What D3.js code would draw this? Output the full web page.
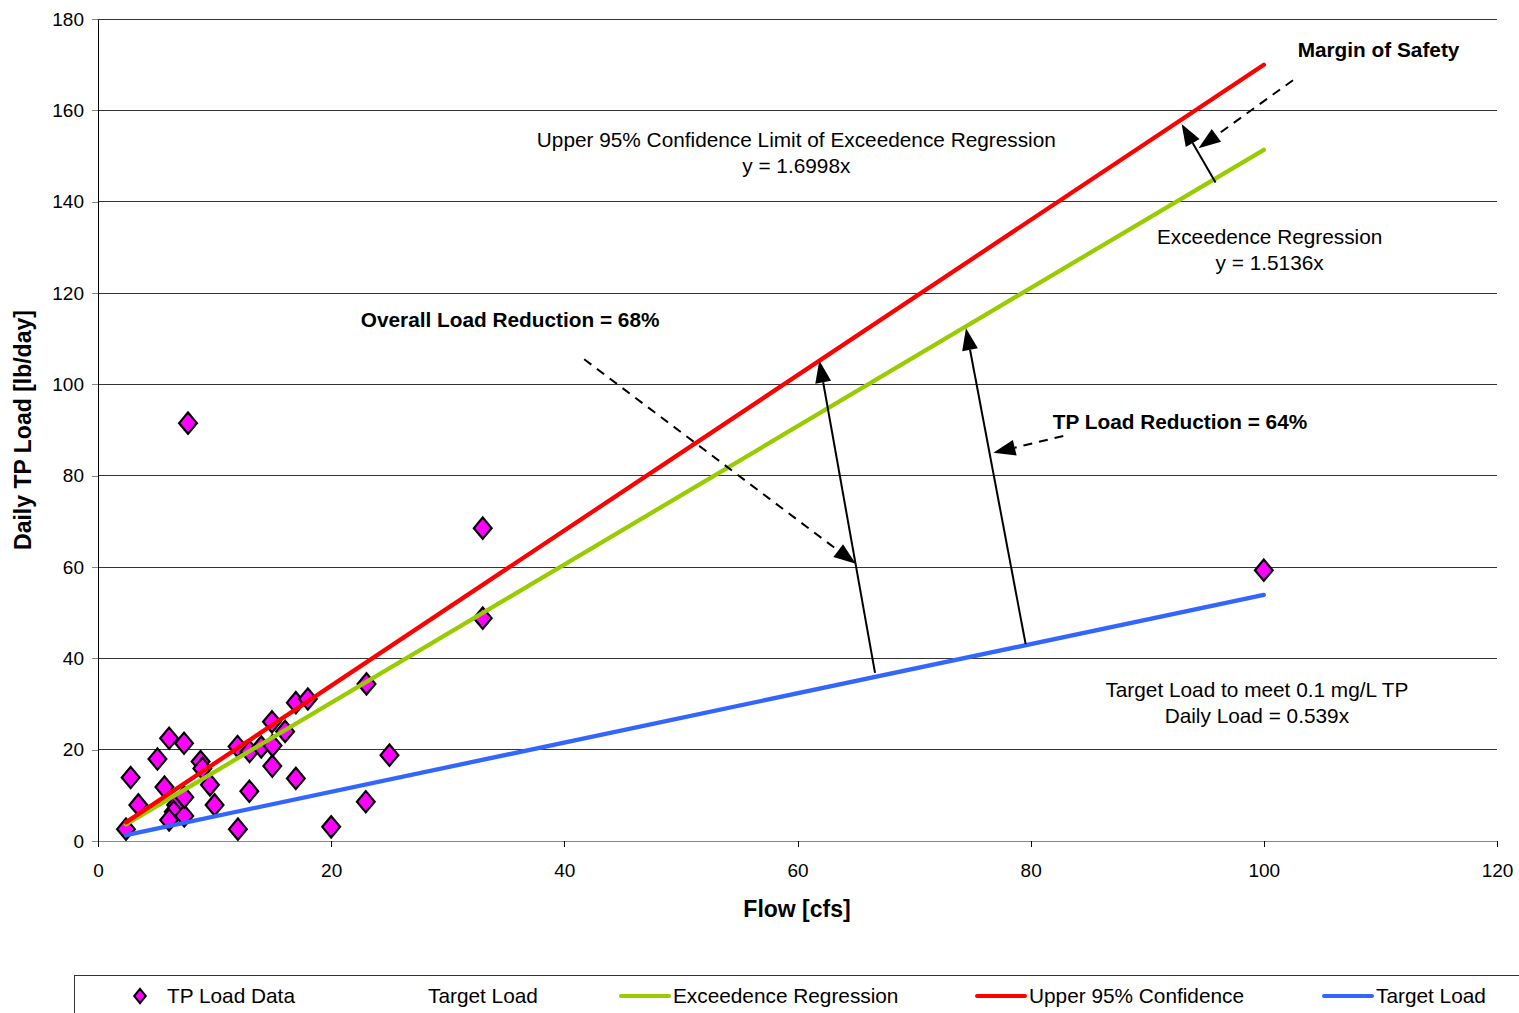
<!DOCTYPE html>
<html>
<head>
<meta charset="utf-8">
<script src="https://cdn.jsdelivr.net/npm/d3@7"></script>
<style>
  html, body { margin: 0; padding: 0; background: #fff; }
  svg text { font-family: "Liberation Sans", Arial, sans-serif; fill: #000; }
</style>
</head>
<body>
<svg id="chart" width="1519" height="1013"></svg>
<script>
// ---- Data ----
const flowData = [2.4, 2.8, 3.46, 5.1, 6.1, 7.38, 5.7, 6.7, 6.5, 6.1, 7.4, 7.4, 8.8, 8.95, 9.6, 10.0,
                  7.72, 12.0, 11.97, 13.0, 12.98, 14.0, 14.97, 14.95, 14.92, 16.05, 16.97, 16.97, 18.0,
                  20.0, 22.97, 23.03, 25.0, 33.0, 33.0, 100.0];
const loadData = [2.6, 13.9, 7.9, 17.95, 22.5, 21.4, 11.8, 7.9, 6.4, 4.6, 5.5, 9.6, 17.4, 15.9, 12.3, 7.9,
                  91.5, 2.6, 20.7, 19.6, 10.9, 20.6, 20.9, 16.4, 26.1, 24.0, 13.7, 30.3, 31.1,
                  3.1, 8.6, 34.4, 18.8, 68.5, 48.8, 59.3];
const lineFlow = [2.4, 100];
const exceedenceLoad = [3.63, 151.36];
const upper95Load = [4.08, 169.98];
const targetLoad = [1.29, 53.9];
const xTicks = [0, 20, 40, 60, 80, 100, 120];
const yTicks = [0, 20, 40, 60, 80, 100, 120, 140, 160, 180];
const legendLabels = ["TP Load Data", "Target Load", "Exceedence Regression", "Upper 95% Confidence", "Target Load"];

// annotation arrows in data coordinates [x1, y1, x2(tip), y2(tip), dashed]
const arrows = [
  [95.86, 144.2, 92.95, 157.0, false],
  [102.5, 166.6, 94.4, 151.7, true],
  [41.7, 105.5, 65.0, 60.7, true],
  [66.65, 36.8, 61.87, 105.2, false],
  [79.57, 43.1, 74.45, 112.3, false],
  [82.8, 88.7, 76.8, 85.0, true]
];

// ---- Layout ----
const svg = d3.select("#chart");
const x = d3.scaleLinear().domain([0, 120]).range([98, 1497]);
const y = d3.scaleLinear().domain([0, 180]).range([841, 19]);
const fontSans = '"Liberation Sans", Arial, sans-serif';

// gridlines
svg.append("g").selectAll("line").data(yTicks.filter(d => d > 0)).join("line")
  .attr("x1", x(0)).attr("x2", x(120))
  .attr("y1", d => y(d)).attr("y2", d => y(d))
  .attr("stroke", "#333").attr("stroke-width", 1).attr("shape-rendering", "crispEdges");

// y axis
const yAxis = d3.axisLeft(y).tickValues(yTicks).tickSize(6).tickPadding(8).tickSizeOuter(0);
const gy = svg.append("g").attr("transform", `translate(${x(0)},0)`).call(yAxis);
gy.select(".domain").attr("stroke", "#000").attr("shape-rendering", "crispEdges");
gy.selectAll(".tick line").attr("stroke", "#888").attr("shape-rendering", "crispEdges");
gy.selectAll("text").style("font-size", "19px").style("font-family", fontSans).attr("fill", "#000");

// x axis
const xAxis = d3.axisBottom(x).tickValues(xTicks).tickSize(6).tickPadding(17).tickSizeOuter(0);
const gx = svg.append("g").attr("transform", `translate(0,${y(0)})`).call(xAxis);
gx.select(".domain").attr("stroke", "#888").attr("stroke-width", 1.5).attr("shape-rendering", "crispEdges");
gx.selectAll(".tick line").attr("stroke", "#000").attr("shape-rendering", "crispEdges");
gx.selectAll("text").style("font-size", "19px").style("font-family", fontSans).attr("fill", "#000");

// axis titles
svg.append("text").attr("x", 797).attr("y", 917).attr("text-anchor", "middle")
  .style("font-size", "23px").style("font-weight", "bold").text("Flow [cfs]");
svg.append("text").attr("transform", "translate(31,430) rotate(-90)").attr("text-anchor", "middle")
  .style("font-size", "23px").style("font-weight", "bold").text("Daily TP Load [lb/day]");

// data points
const diamond = d3.symbol().type(d3.symbolDiamond).size(130);
svg.append("g").selectAll("path").data(flowData.map((f, i) => [f, loadData[i]])).join("path")
  .attr("d", diamond)
  .attr("transform", d => `translate(${x(d[0])},${y(d[1])}) scale(1.45,1)`)
  .attr("fill", "#FF00FF").attr("stroke", "#000").attr("stroke-width", 2.2)
  .attr("vector-effect", "non-scaling-stroke");

// lines
const lineGen = d3.line().x(d => x(d[0])).y(d => y(d[1]));
const series = [
  [targetLoad, "#3366FF"],
  [exceedenceLoad, "#99CC00"],
  [upper95Load, "#FF0000"]
];
series.forEach(([vals, col]) => {
  svg.append("path").datum(lineFlow.map((f, i) => [f, vals[i]]))
    .attr("d", lineGen).attr("fill", "none").attr("stroke", col)
    .attr("stroke-width", 4.3).attr("stroke-linecap", "round");
});

// arrows
const ag = svg.append("g");
arrows.forEach(([x1, y1, x2, y2, dashed]) => {
  const px1 = x(x1), py1 = y(y1), px2 = x(x2), py2 = y(y2);
  const ang = Math.atan2(py2 - py1, px2 - px1);
  const L = 22, W = 8;
  const bx = px2 - L * Math.cos(ang), by = py2 - L * Math.sin(ang);
  ag.append("line").attr("x1", px1).attr("y1", py1).attr("x2", bx).attr("y2", by)
    .attr("stroke", "#000").attr("stroke-width", 2)
    .attr("stroke-dasharray", dashed ? "9,7" : null);
  const nx = -Math.sin(ang), ny = Math.cos(ang);
  ag.append("path")
    .attr("d", `M${px2},${py2}L${bx + W * nx},${by + W * ny}L${bx - W * nx},${by - W * ny}Z`)
    .attr("fill", "#000");
});

// text annotations
function label(xv, yv, txt, anchor, bold) {
  svg.append("text").attr("x", x(xv)).attr("y", y(yv)).attr("text-anchor", anchor)
    .style("font-size", "20.8px").style("font-weight", bold ? "bold" : "normal").text(txt);
}
label(59.9, 151.96, "Upper 95% Confidence Limit of Exceedence Regression", "middle", false);
label(59.9, 146.27, "y = 1.6998x", "middle", false);
label(100.5, 130.7, "Exceedence Regression", "middle", false);
label(100.5, 125.0, "y = 1.5136x", "middle", false);
label(99.4, 31.53, "Target Load to meet 0.1 mg/L TP", "middle", false);
label(99.4, 25.84, "Daily Load = 0.539x", "middle", false);
label(35.35, 112.55, "Overall Load Reduction = 68%", "middle", true);
label(81.9, 90.2, "TP Load Reduction = 64%", "start", true);
label(102.9, 171.7, "Margin of Safety", "start", true);

// legend
const lg = svg.append("g");
lg.append("rect").attr("x", 74.5).attr("y", 975.5).attr("width", 1480).attr("height", 60)
  .attr("fill", "#fff").attr("stroke", "#333").attr("stroke-width", 1);
const legY = 996;
lg.append("path").attr("d", d3.symbol().type(d3.symbolDiamond).size(60))
  .attr("transform", `translate(140,${legY}) scale(1.4,1)`)
  .attr("fill", "#FF00FF").attr("stroke", "#000").attr("stroke-width", 2)
  .attr("vector-effect", "non-scaling-stroke");
const legItems = [
  [167, null, legendLabels[0]],
  [428, null, legendLabels[1]],
  [673, "#99CC00", legendLabels[2]],
  [1029, "#FF0000", legendLabels[3]],
  [1376, "#3366FF", legendLabels[4]]
];
legItems.forEach(([tx, col, txt]) => {
  if (col) {
    lg.append("line").attr("x1", tx - 52).attr("x2", tx - 4).attr("y1", legY).attr("y2", legY)
      .attr("stroke", col).attr("stroke-width", 4).attr("stroke-linecap", "round");
  }
  lg.append("text").attr("x", tx).attr("y", legY + 7).style("font-size", "20.8px").text(txt);
});
</script>
</body>
</html>
